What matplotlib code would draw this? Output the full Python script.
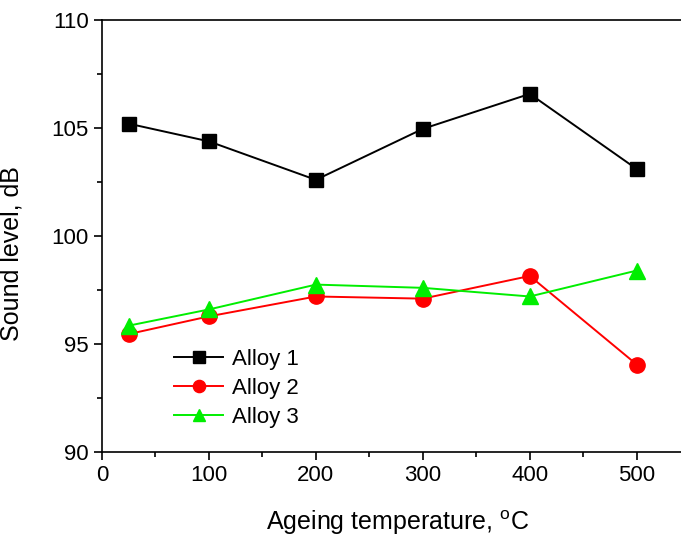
import numpy as np
import matplotlib
matplotlib.use("Agg")
import matplotlib.pyplot as plt
from matplotlib.ticker import MultipleLocator

plt.rcParams['font.family'] = ['Liberation Sans', 'DejaVu Sans']

# ageing temperatures (C)
temps = [25, 100, 200, 300, 400, 500]
# sound level, dB
alloy1 = [105.2, 104.38, 102.6, 104.96, 106.58, 103.1]
alloy2 = [95.46, 96.28, 97.2, 97.1, 98.15, 94.05]
alloy3 = [95.85, 96.6, 97.75, 97.6, 97.2, 98.4]

fig = plt.figure(figsize=(6.81, 5.38), dpi=100)
ax = fig.add_axes([102 / 681, 86 / 538, 579 / 681, 432 / 538])

ax.plot(temps, alloy1, '-s', color='black', markersize=10, linewidth=1.4, label='Alloy 1')
ax.plot(temps, alloy2, '-o', color='red', markersize=11, linewidth=1.4, label='Alloy 2')
ax.plot(temps, alloy3, '-^', color='#00ee00', markersize=11, linewidth=1.4, label='Alloy 3')

ax.set_xlim(0, 541.4)
ax.set_ylim(90, 110)
ax.xaxis.set_major_locator(MultipleLocator(100))
ax.xaxis.set_minor_locator(MultipleLocator(50))
ax.yaxis.set_major_locator(MultipleLocator(5))
ax.yaxis.set_minor_locator(MultipleLocator(2.5))
ax.tick_params(which='major', direction='out', length=6, width=1.2, labelsize=16)
ax.tick_params(which='minor', direction='out', length=3.5, width=1.2)
ax.tick_params(top=False, right=False)
ax.spines['right'].set_visible(False)
for s in ['left', 'bottom', 'top']:
    ax.spines[s].set_linewidth(1.2)

ax.set_xlabel('Ageing temperature, $^{\\mathregular{o}}$C', fontsize=18)
ax.set_ylabel('Sound level, dB', fontsize=18)
ax.xaxis.set_label_coords(0.51, -0.13)
ax.yaxis.set_label_coords(-0.135, 0.46)

ax.legend(loc='lower left', bbox_to_anchor=(0.09, 0.01), frameon=False, fontsize=16,
          handlelength=2.2, handletextpad=0.4, labelspacing=0.35, markerscale=0.8)

fig.savefig('out.png', dpi=100)
